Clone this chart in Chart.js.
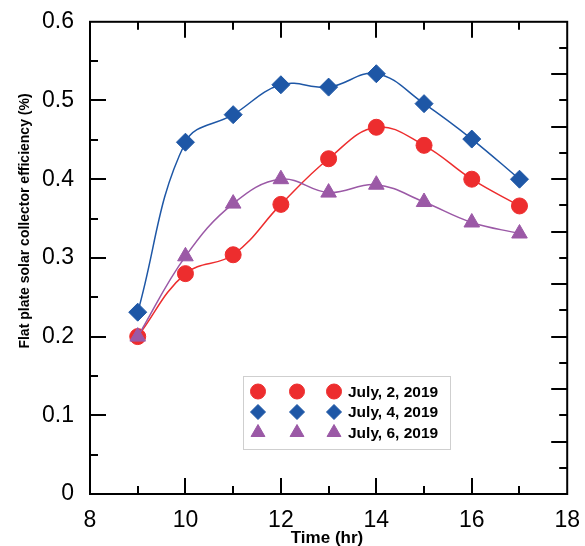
<!DOCTYPE html>
<html>
<head>
<meta charset="utf-8">
<script src="https://cdn.jsdelivr.net/npm/chart.js@4.4.1/dist/chart.umd.min.js"></script>
<style>
  html, body { margin: 0; padding: 0; background: #fff; }
  #wrap { width: 585px; height: 546px; }
</style>
</head>
<body>
<div id="wrap"><canvas id="chart" width="585" height="546"></canvas></div>
<script>
// data
var hours = [9, 10, 11, 12, 13, 14, 15, 16, 17];
var july2 = [0.200, 0.280, 0.304, 0.368, 0.426, 0.466, 0.443, 0.400, 0.366];
var july4 = [0.231, 0.447, 0.482, 0.520, 0.517, 0.534, 0.496, 0.451, 0.400];
var july6 = [0.200, 0.302, 0.369, 0.400, 0.383, 0.393, 0.371, 0.345, 0.331];
var seriesLabels = ['July, 2, 2019', 'July, 4, 2019', 'July, 6, 2019'];
var xTitle = 'Time (hr)';
var yTitle = 'Flat plate solar collector efficiency (%)';

var FONT = '"Liberation Sans", Arial, sans-serif';
var RED = 'rgb(237,45,46)';
var BLUE = 'rgb(30,87,166)';
var PURPLE = 'rgb(155,89,166)';

function pts(ys) {
    return hours.map((h, i) => ({x: h, y: ys[i]}));
}

// frame, inward ticks on all four sides, axis titles and the boxed legend
var decor = {
    id: 'decor',
    afterDraw: (chart) => {
        var ctx = chart.ctx;
        var a = chart.chartArea;
        var xs = chart.scales.x, ys = chart.scales.y, ys2 = chart.scales.y2;
        ctx.save();
        ctx.strokeStyle = '#000';
        ctx.lineWidth = 2;
        ctx.beginPath();
        // bottom + top ticks
        for (var h = 9; h < 18; h++) {
            var px = Math.round(xs.getPixelForValue(h));
            var len = h % 2 === 0 ? 16 : 8;
            ctx.moveTo(px, a.bottom); ctx.lineTo(px, a.bottom - len);
            ctx.moveTo(px, a.top); ctx.lineTo(px, a.top + len);
        }
        // left ticks
        for (var i = 1; i < 12; i++) {
            var py = Math.round(ys.getPixelForValue(i * 0.05));
            var l2 = i % 2 === 0 ? 16 : 8;
            ctx.moveTo(a.left, py); ctx.lineTo(a.left + l2, py);
        }
        // right ticks (separate unlabeled scale)
        for (var j = 1; j < 18; j++) {
            var py2 = Math.round(ys2.getPixelForValue(j * 0.5));
            var l3 = j % 2 === 0 ? 16 : 8;
            ctx.moveTo(a.right, py2); ctx.lineTo(a.right - l3, py2);
        }
        ctx.stroke();
        ctx.strokeRect(a.left, a.top, a.right - a.left, a.bottom - a.top);

        // axis titles
        ctx.fillStyle = '#000';
        ctx.textAlign = 'center';
        ctx.textBaseline = 'middle';
        ctx.font = 'bold 17px ' + FONT;
        ctx.fillText(xTitle, 327, 538);
        ctx.save();
        ctx.translate(25, 221);
        ctx.rotate(-Math.PI / 2);
        ctx.font = 'bold 14px ' + FONT;
        ctx.fillText(yTitle, 0, 0);
        ctx.restore();

        // legend box
        var lx = a.left + 153, ly = 376;
        ctx.fillStyle = '#fff';
        ctx.fillRect(lx, ly, 207, 73);
        ctx.strokeStyle = '#cfcfcf';
        ctx.lineWidth = 1;
        ctx.strokeRect(lx + 0.5, ly + 0.5, 207, 73);
        var rowY = [391.5, 412, 432.5];
        var markX = [258, 297, 334];
        chart.data.datasets.forEach((ds, k) => {
            ctx.fillStyle = ds.pointBackgroundColor;
            ctx.strokeStyle = ds.pointBorderColor;
            ctx.lineWidth = 1;
            markX.forEach(mx => {
                Chart.helpers.drawPoint(ctx, {
                    pointStyle: ds.pointStyle,
                    radius: ds.pointStyle === 'triangle' ? 8 : 7.5,
                    rotation: 0,
                    borderWidth: 1
                }, mx, rowY[k]);
            });
            ctx.fillStyle = '#000';
            ctx.textAlign = 'left';
            ctx.font = 'bold 15.5px ' + FONT;
            ctx.fillText(ds.label, 348, rowY[k] + 1);
        });
        ctx.restore();
    }
};

function makeSet(label, ys, color, style, radius, order) {
    return {
        label: label,
        data: pts(ys),
        borderColor: color,
        backgroundColor: color,
        borderWidth: 1.5,
        tension: 0.4,
        pointStyle: style,
        pointRadius: radius,
        pointBackgroundColor: color,
        pointBorderColor: color,
        pointBorderWidth: 1,
        order: order
    };
}

new Chart(document.getElementById('chart'), {
    type: 'line',
    data: {
        datasets: [
            makeSet(seriesLabels[0], july2, RED, 'circle', 8, 1),
            makeSet(seriesLabels[1], july4, BLUE, 'rectRot', 9, 2),
            makeSet(seriesLabels[2], july6, PURPLE, 'triangle', 9, 0)
        ]
    },
    options: {
        responsive: false,
        animation: false,
        layout: { padding: { top: 19, right: 15, left: 0, bottom: 0 } },
        plugins: { legend: { display: false }, tooltip: { enabled: false } },
        scales: {
            x: {
                type: 'linear',
                min: 8, max: 18,
                grid: { display: false },
                border: { display: false },
                ticks: {
                    stepSize: 2, padding: 5, color: '#000',
                    font: { family: FONT, size: 23 }
                },
                afterFit: (s) => { s.height = 52; }
            },
            y: {
                min: 0, max: 0.6,
                grid: { display: false },
                border: { display: false },
                ticks: {
                    stepSize: 0.1, padding: 8, color: '#000',
                    font: { family: FONT, size: 23 },
                    callback: (v) => String(Number(v.toFixed(2)))
                },
                afterFit: (s) => { s.width = 90; }
            },
            y2: {
                position: 'right',
                min: 0, max: 9,
                grid: { display: false },
                border: { display: false },
                ticks: { display: false },
                afterFit: (s) => { s.width = 0; }
            }
        }
    },
    plugins: [decor]
});
</script>
</body>
</html>
